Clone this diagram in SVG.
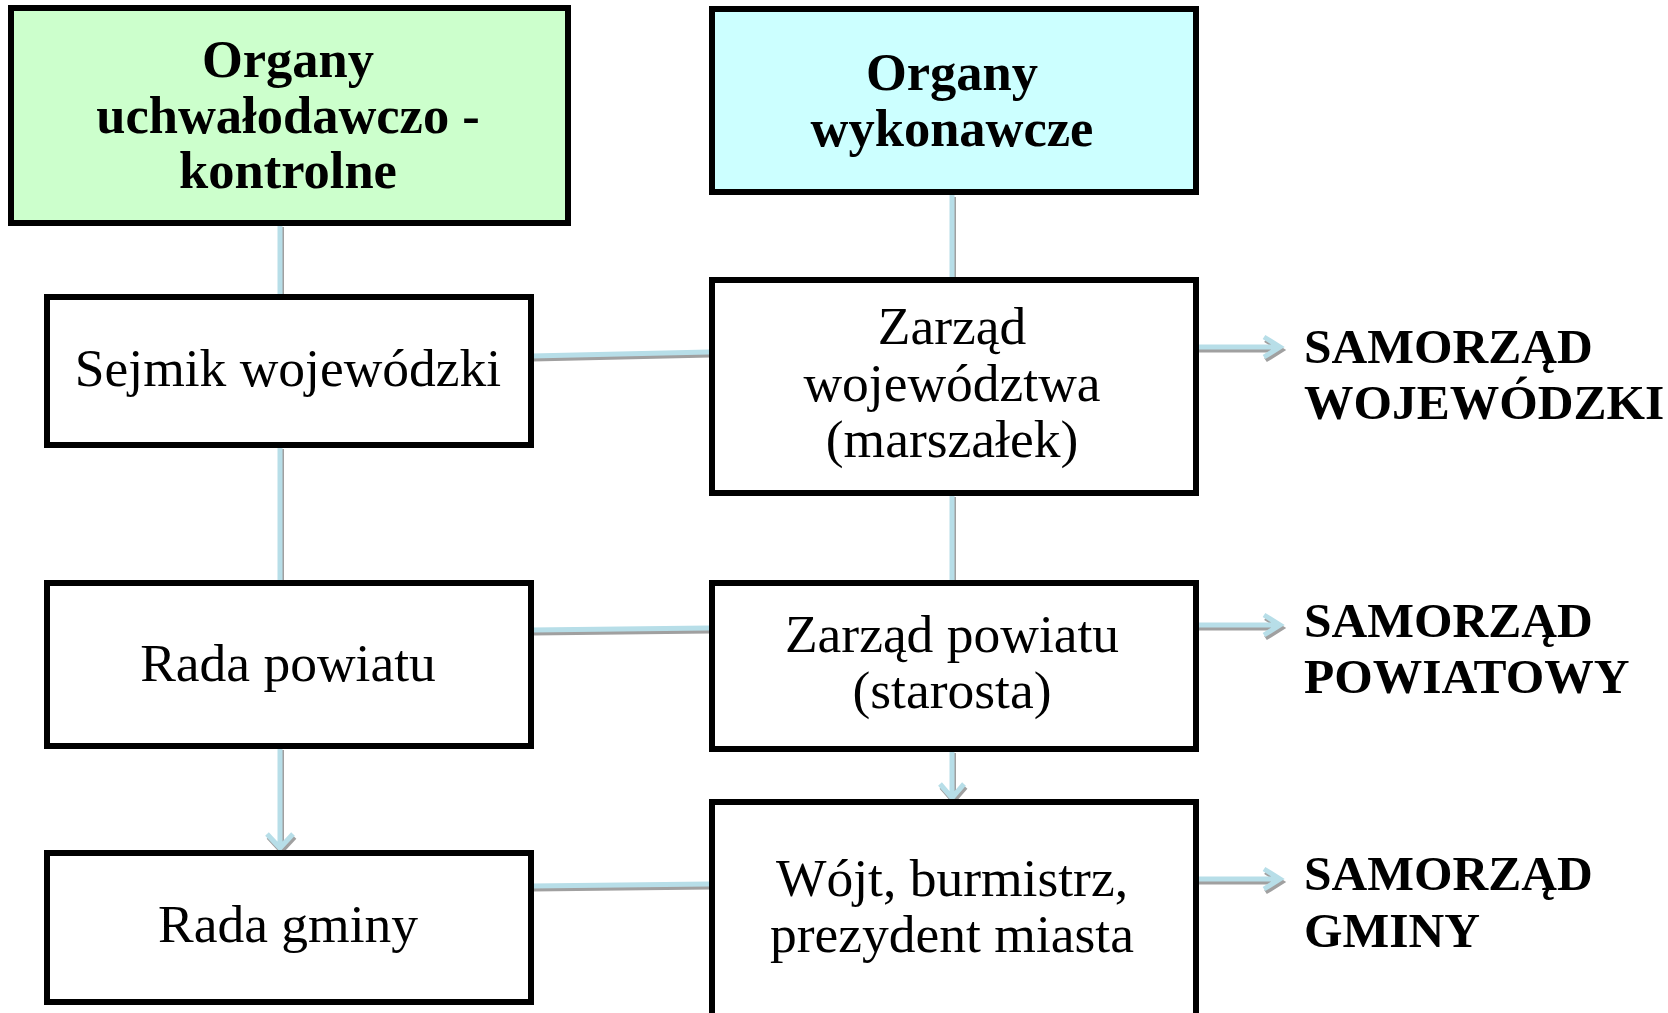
<svg xmlns="http://www.w3.org/2000/svg" width="1668" height="1013" viewBox="0 0 1668 1013">
<style>
.box{stroke:#000;stroke-width:6;}
.w{fill:#fff;}
.t{font-family:"Liberation Serif",serif;font-size:53.5px;fill:#000;text-anchor:middle;}
.b{font-weight:bold;font-size:52.5px;}
.s{font-family:"Liberation Serif",serif;font-size:49.5px;font-weight:bold;fill:#000;}
.ln{fill:none;stroke:#B7DEE8;stroke-width:5;}
.sh{fill:none;stroke:#A0A0A0;stroke-width:5;}
</style>
<rect width="1668" height="1013" fill="#fff"/>
<g id="connectors">
<g transform="translate(1.5,3)">
<path class="sh" d="M280 224V295M280 446V581M280 747V849M267 834L280 848L293 834"/>
<path class="sh" d="M952 194V278M952 494V581M952 750V799M940 784L952 798L964 784"/>
<path class="sh" d="M531 356L709 352M531 630L709 628M531 886L709 884"/>
<path class="sh" d="M1196 347H1280M1264 337L1280 347L1264 357M1196 625H1280M1264 615L1280 625L1264 635M1196 879H1280M1264 869L1280 879L1264 889"/>
</g>
<path class="ln" d="M280 224V295M280 446V581M280 747V849M267 834L280 848L293 834"/>
<path class="ln" d="M952 194V278M952 494V581M952 750V799M940 784L952 798L964 784"/>
<path class="ln" d="M531 356L709 352M531 630L709 628M531 886L709 884"/>
<path class="ln" d="M1196 347H1280M1264 337L1280 347L1264 357M1196 625H1280M1264 615L1280 625L1264 635M1196 879H1280M1264 869L1280 879L1264 889"/>
</g>
<g id="n-uchwalodawcze">
<rect class="box" x="11" y="8" width="557" height="215" fill="#CCFFCC"/>
<text class="t b" x="288" y="77">Organy</text>
<text class="t b" x="288" y="133">uchwałodawczo -</text>
<text class="t b" x="288" y="188">kontrolne</text>
</g>
<g id="n-wykonawcze">
<rect class="box" x="712" y="9" width="484" height="183" fill="#CCFFFF"/>
<text class="t b" x="952" y="90">Organy</text>
<text class="t b" x="952" y="146">wykonawcze</text>
</g>
<g id="n-sejmik">
<rect class="box w" x="47" y="297" width="484" height="148"/>
<text class="t" x="288" y="386">Sejmik wojewódzki</text>
</g>
<g id="n-zarzad-woj">
<rect class="box w" x="712" y="280" width="484" height="213"/>
<text class="t" x="952" y="344">Zarząd</text>
<text class="t" x="952" y="401">województwa</text>
<text class="t" x="952" y="457">(marszałek)</text>
</g>
<g id="n-rada-powiatu">
<rect class="box w" x="47" y="583" width="484" height="163"/>
<text class="t" x="288" y="681">Rada powiatu</text>
</g>
<g id="n-zarzad-powiatu">
<rect class="box w" x="712" y="583" width="484" height="166"/>
<text class="t" x="952" y="652">Zarząd powiatu</text>
<text class="t" x="952" y="708">(starosta)</text>
</g>
<g id="n-rada-gminy">
<rect class="box w" x="47" y="853" width="484" height="149"/>
<text class="t" x="288" y="942">Rada gminy</text>
</g>
<g id="n-wojt">
<rect class="box w" x="712" y="802" width="484" height="230"/>
<text class="t" x="952" y="896">Wójt, burmistrz,</text>
<text class="t" x="952" y="952">prezydent miasta</text>
</g>
<g id="labels">
<text class="s" x="1304" y="363">SAMORZĄD</text>
<text class="s" x="1304" y="419">WOJEWÓDZKI</text>
<text class="s" x="1304" y="637">SAMORZĄD</text>
<text class="s" x="1304" y="693">POWIATOWY</text>
<text class="s" x="1304" y="890">SAMORZĄD</text>
<text class="s" x="1304" y="947">GMINY</text>
</g>
</svg>
